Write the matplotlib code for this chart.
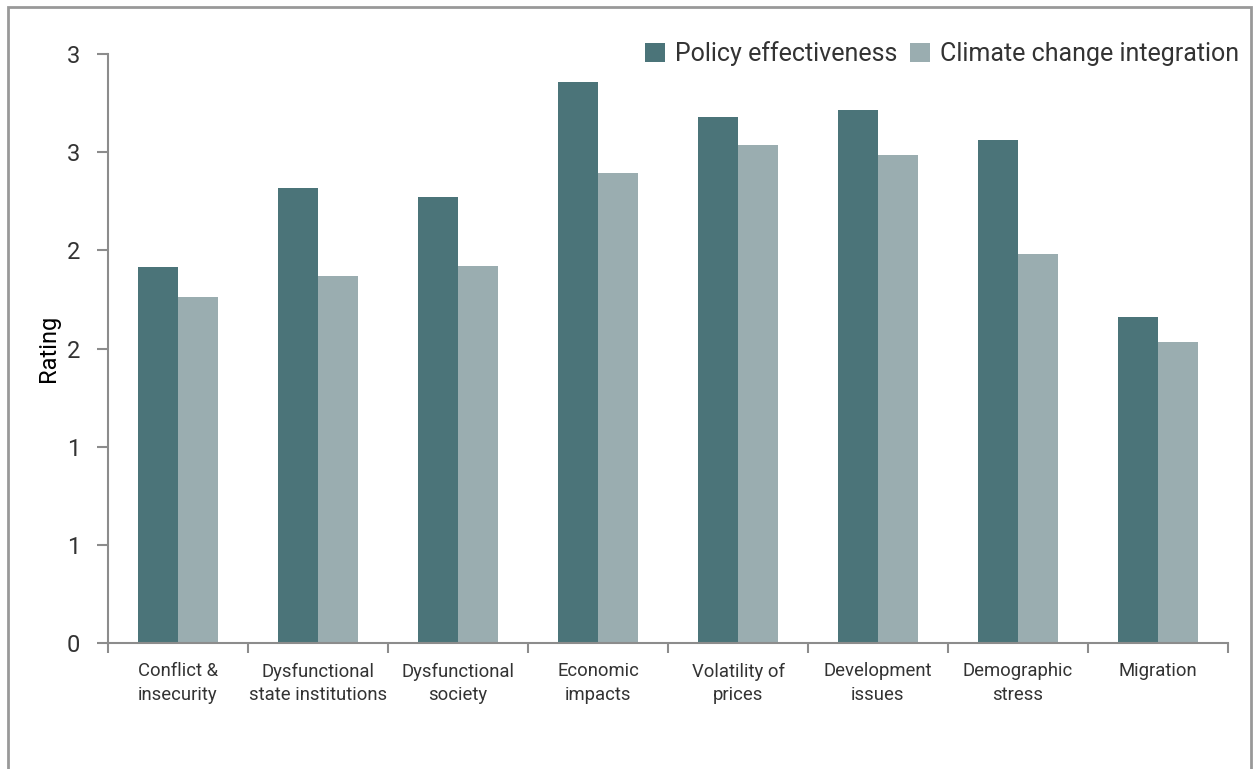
import numpy as np
import matplotlib.pyplot as plt
from matplotlib.patches import Rectangle
from matplotlib.ticker import FixedLocator, FuncFormatter

categories = ["Conflict &\ninsecurity", "Dysfunctional\nstate institutions",
              "Dysfunctional\nsociety", "Economic\nimpacts", "Volatility of\nprices",
              "Development\nissues", "Demographic\nstress", "Migration"]
policy = [1.915, 2.318, 2.272, 2.858, 2.680, 2.715, 2.562, 1.661]
climate = [1.763, 1.870, 1.920, 2.394, 2.537, 2.486, 1.982, 1.533]
y_ticks = [0, 0.5, 1.0, 1.5, 2.0, 2.5, 3.0]

plt.rcParams['font.family'] = ['Roboto', 'DejaVu Sans']
dark = "#4b7479"
light = "#9aadb0"
axis_col = "#8c8c8c"
text_col = "#333333"

fig = plt.figure(figsize=(12.56, 7.69), dpi=100)
ax = fig.add_axes([108/1256, 1 - 643/769, 1120/1256, 589/769])

x = np.arange(len(categories))
w = 0.2857
ax.bar(x - w/2, policy, w, color=dark, label="Policy effectiveness")
ax.bar(x + w/2, climate, w, color=light, label="Climate change integration")

ax.set_xlim(-0.5, len(categories) - 0.5)
ax.set_ylim(0, 3)
ax.yaxis.set_major_locator(FixedLocator(y_ticks))
ax.yaxis.set_major_formatter(FuncFormatter(lambda v, p: str(int(np.floor(v + 0.5)))))

ax.set_xticks(x)
ax.set_xticklabels(categories, fontsize=13.3, color=text_col, linespacing=1.4)
ax.xaxis.set_minor_locator(FixedLocator(np.arange(-0.5, len(categories), 1)))
ax.tick_params(axis='x', which='major', length=0, pad=14)
ax.tick_params(axis='x', which='minor', length=7, width=1.5, color=axis_col, direction='out')
ax.tick_params(axis='y', length=8, width=1.5, color=axis_col, labelsize=17,
               labelcolor=text_col, pad=12)

for s in ['top', 'right']:
    ax.spines[s].set_visible(False)
for s in ['left', 'bottom']:
    ax.spines[s].set_color(axis_col)
    ax.spines[s].set_linewidth(1.5)

ax.set_ylabel("Rating", fontsize=17, color="black", labelpad=5)

leg = ax.legend(loc='upper right', bbox_to_anchor=(1.03, 1.06), ncol=2, frameon=False,
                fontsize=18, handlelength=0.8, handleheight=0.8, handletextpad=0.4,
                columnspacing=0.5, labelcolor=text_col)

fig.patches.append(Rectangle((8/1256, -0.05), (1251-8)/1256, 1.05 - 7/769,
                             transform=fig.transFigure, fill=False,
                             edgecolor="#999999", linewidth=2, figure=fig))

fig.savefig("out.png", dpi=100)
